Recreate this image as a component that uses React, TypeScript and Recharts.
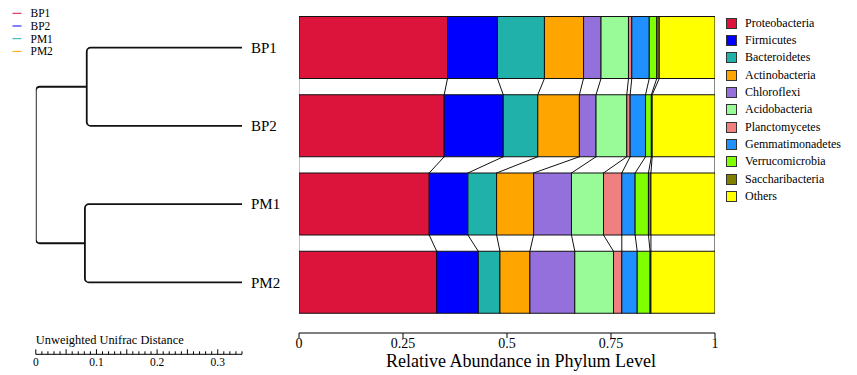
import React from "react";
import { BarChart, Bar, XAxis, YAxis, Legend, LineChart, Line, Label } from "recharts";

const SERIF = '"Liberation Serif", "Times New Roman", Times, serif';

// samples (top to bottom) and their legend colours
const samples = ["BP1", "BP2", "PM1", "PM2"];
const sampleColors = ["#DC143C", "#0000FF", "#20B2AA", "#FFA500"];

// phylum categories, stacked left to right
const phyla = [
  "Proteobacteria",
  "Firmicutes",
  "Bacteroidetes",
  "Actinobacteria",
  "Chloroflexi",
  "Acidobacteria",
  "Planctomycetes",
  "Gemmatimonadetes",
  "Verrucomicrobia",
  "Saccharibacteria",
  "Others",
];
const phylaColors = [
  "#DC143C",
  "#0000FF",
  "#20B2AA",
  "#FFA500",
  "#9370DB",
  "#98FB98",
  "#F08080",
  "#1E90FF",
  "#7FFF00",
  "#808000",
  "#FFFF00",
];

// relative abundance per sample, same order as phyla
const bp1 = [0.357, 0.12, 0.113, 0.094, 0.042, 0.066, 0.008, 0.042, 0.018, 0.006, 0.134];
const bp2 = [0.349, 0.142, 0.083, 0.1, 0.04, 0.074, 0.008, 0.037, 0.014, 0.002, 0.151];
const pm1 = [0.313, 0.093, 0.069, 0.089, 0.091, 0.077, 0.044, 0.032, 0.032, 0.006, 0.154];
const pm2 = [0.331, 0.1, 0.052, 0.072, 0.108, 0.093, 0.02, 0.037, 0.031, 0.002, 0.154];
const sampleValues = [bp1, bp2, pm1, pm2];

const abundanceTicks = [0, 0.25, 0.5, 0.75, 1];
const abundanceTickLabels = ["0", "0.25", "0.5", "0.75", "1"];

// dendrogram (distance measured from the root)
const leafDistance = 0.34;
const bpNodeDistance = 0.084;
const pmNodeDistance = 0.081;
const distanceMax = 0.34;
const distanceLabels = [0, 0.1, 0.2, 0.3];
const distanceTicks = Array.from({ length: 35 }, (_, i) => i / 100);

const treeLinks = [
  [
    { d: leafDistance, row: 0 },
    { d: bpNodeDistance, row: 0 },
    { d: bpNodeDistance, row: 1 },
    { d: leafDistance, row: 1 },
  ],
  [
    { d: bpNodeDistance, row: 0.5 },
    { d: 0, row: 0.5 },
    { d: 0, row: 2.5 },
    { d: pmNodeDistance, row: 2.5 },
  ],
  [
    { d: leafDistance, row: 2 },
    { d: pmNodeDistance, row: 2 },
    { d: pmNodeDistance, row: 3 },
    { d: leafDistance, row: 3 },
  ],
];

// layout
const WIDTH = 857;
const HEIGHT = 375;
const PLOT_TOP = 8.5;
const BAND_BOTTOM = 321.5;
const AXIS_Y = 333;
const RULER_Y = 354.3;
const ROW_STEP = (BAND_BOTTOM - PLOT_TOP) / samples.length;

const rows = samples.map((s, i) => {
  const row: Record<string, any> = { sample: s };
  phyla.forEach((p, k) => (row[p] = sampleValues[i][k]));
  return row;
});

const cumStarts = sampleValues.map((vals) => {
  let acc = 0;
  return vals.map((v) => {
    const s = acc;
    acc += v;
    return s;
  });
});

// bar segment with the connector line down to the same boundary in the next sample
function makeSegment(k: number) {
  return (props: any) => {
    const { x, y, width, height, fill, payload } = props;
    const r = samples.indexOf(payload.sample);
    const start = cumStarts[r][k];
    const end = start + sampleValues[r][k];
    const ppu = width / (end - start);
    const originX = x - start * ppu;
    const links: React.ReactNode[] = [];
    if (r < samples.length - 1) {
      const gap = ROW_STEP - height;
      const nStart = cumStarts[r + 1][k];
      const nEnd = nStart + sampleValues[r + 1][k];
      links.push(
        <line key="e" x1={x + width} y1={y + height} x2={originX + nEnd * ppu} y2={y + height + gap} stroke="#111" strokeWidth={1} />
      );
      if (k === 0) {
        links.push(
          <line key="s" x1={x} y1={y + height} x2={originX + nStart * ppu} y2={y + height + gap} stroke="#888" strokeWidth={1} />
        );
      }
    }
    return (
      <g>
        <rect x={x} y={y} width={width} height={height} fill={fill} stroke="#111" strokeWidth={1} />
        {links}
      </g>
    );
  };
}

// d3-style curve: straight segments with rounded elbows
const roundedElbow = (radius: number) => (context: any) => {
  let pts: [number, number][] = [];
  return {
    areaStart() {},
    areaEnd() {},
    lineStart() {
      pts = [];
    },
    lineEnd() {
      if (!pts.length) return;
      context.moveTo(pts[0][0], pts[0][1]);
      for (let i = 1; i < pts.length - 1; i++) {
        context.arcTo(pts[i][0], pts[i][1], pts[i + 1][0], pts[i + 1][1], radius);
      }
      const last = pts[pts.length - 1];
      context.lineTo(last[0], last[1]);
    },
    point(x: number, y: number) {
      pts.push([x, y]);
    },
  };
};

const RulerTick = (props: any) => {
  const { x, y, payload } = props;
  const v = payload.value;
  const major = Math.abs(v * 20 - Math.round(v * 20)) < 1e-6;
  const label = distanceLabels.find((d) => Math.abs(d - v) < 1e-6);
  return (
    <g>
      <line x1={x} x2={x} y1={y} y2={y - (major ? 5 : 3)} stroke="#000" strokeWidth={1} />
      {label !== undefined && (
        <text x={x} y={y + 12} textAnchor="middle" fontSize={11.5} fontFamily={SERIF} fill="#000">
          {String(label)}
        </text>
      )}
    </g>
  );
};

const PhylumLegend = (props: any) => {
  const items = [...(props.payload || [])].sort(
    (a: any, b: any) => phyla.indexOf(a.value) - phyla.indexOf(b.value)
  );
  return (
    <div style={{ fontFamily: SERIF, fontSize: 12, color: "#000" }}>
      {items.map((it: any) => (
        <div key={it.value} style={{ display: "flex", alignItems: "center", height: 17.35 }}>
          <span
            style={{
              width: 9,
              height: 9,
              background: it.color,
              border: "1px solid #333",
              marginRight: 8,
              flexShrink: 0,
            }}
          />
          <span>{it.value}</span>
        </div>
      ))}
    </div>
  );
};

export default function App() {
  return (
    <div style={{ position: "absolute", left: 0, top: 0, width: WIDTH, height: HEIGHT, background: "#fff" }}>
      {/* sample legend */}
      <svg style={{ position: "absolute", left: 0, top: 0 }} width={80} height={60}>
        {samples.map((s, i) => (
          <g key={s}>
            <line x1={12.5} x2={21.5} y1={13.3 + i * 12.7} y2={13.3 + i * 12.7} stroke={sampleColors[i]} strokeWidth={1} />
            <text x={30.5} y={17.3 + i * 12.7} fontSize={11.5} fontFamily={SERIF} fill="#000">
              {s}
            </text>
          </g>
        ))}
      </svg>

      {/* dendrogram */}
      <div style={{ position: "absolute", left: 0, top: 0 }}>
        <LineChart width={260} height={HEIGHT} margin={{ top: PLOT_TOP, right: 18, bottom: 0, left: 35.8 }}>
          <XAxis
            type="number"
            dataKey="d"
            domain={[0, distanceMax]}
            allowDataOverflow
            ticks={distanceTicks}
            interval={0}
            height={HEIGHT - RULER_Y}
            tickLine={false}
            tickSize={0}
            tickMargin={0}
            axisLine={{ stroke: "#000", strokeWidth: 1 }}
            tick={<RulerTick />}
          >
            <Label
              content={(p: any) => (
                <text x={p.viewBox.x} y={p.viewBox.y - 10.5} fontSize={12.4} fontFamily={SERIF} fill="#000">
                  Unweighted Unifrac Distance
                </text>
              )}
            />
          </XAxis>
          <YAxis
            type="number"
            dataKey="row"
            hide
            reversed
            allowDataOverflow
            domain={[-0.5, -0.5 + (RULER_Y - PLOT_TOP) / ROW_STEP]}
          />
          {treeLinks.map((link, i) => (
            <Line
              key={i}
              data={link}
              dataKey="row"
              type={roundedElbow(4) as any}
              stroke="#111"
              strokeWidth={1.8}
              dot={false}
              activeDot={false}
              isAnimationActive={false}
            />
          ))}
        </LineChart>
      </div>

      {/* stacked abundance bars */}
      <div style={{ position: "absolute", left: 0, top: 0 }}>
        <BarChart
          width={WIDTH}
          height={HEIGHT}
          data={rows}
          layout="vertical"
          barCategoryGap={8}
          margin={{ top: PLOT_TOP, right: 142, bottom: 0, left: 251 }}
        >
          <XAxis
            type="number"
            domain={[0, 1]}
            allowDataOverflow
            ticks={abundanceTicks}
            interval={0}
            tickFormatter={(v: number) => abundanceTickLabels[abundanceTicks.indexOf(v)]}
            height={HEIGHT - AXIS_Y}
            axisLine={{ stroke: "#000", strokeWidth: 1 }}
            tickLine={{ stroke: "#000", strokeWidth: 1 }}
            tickSize={5}
            tickMargin={0}
            tick={{ fill: "#000", fontSize: 14, fontFamily: SERIF }}
          >
            <Label
              content={(p: any) => (
                <text
                  x={p.viewBox.x + p.viewBox.width / 2 + 14}
                  y={p.viewBox.y + 34}
                  textAnchor="middle"
                  fontSize={18}
                  fontFamily={SERIF}
                  fill="#000"
                >
                  Relative Abundance in Phylum Level
                </text>
              )}
            />
          </XAxis>
          <YAxis
            type="category"
            dataKey="sample"
            width={48}
            axisLine={false}
            tickLine={false}
            tickSize={0}
            tickMargin={48}
            padding={{ top: 0, bottom: AXIS_Y - BAND_BOTTOM }}
            tick={{ textAnchor: "start", fill: "#000", fontSize: 15, fontFamily: SERIF }}
          />
          {phyla.map((p, k) => (
            <Bar
              key={p}
              dataKey={p}
              stackId="phylum"
              fill={phylaColors[k]}
              stroke="#111"
              isAnimationActive={false}
              shape={makeSegment(k)}
            />
          ))}
          <Legend
            layout="vertical"
            align="center"
            verticalAlign="middle"
            wrapperStyle={{ left: 726, top: 14.5, width: 131 }}
            content={<PhylumLegend />}
          />
        </BarChart>
      </div>
    </div>
  );
}
